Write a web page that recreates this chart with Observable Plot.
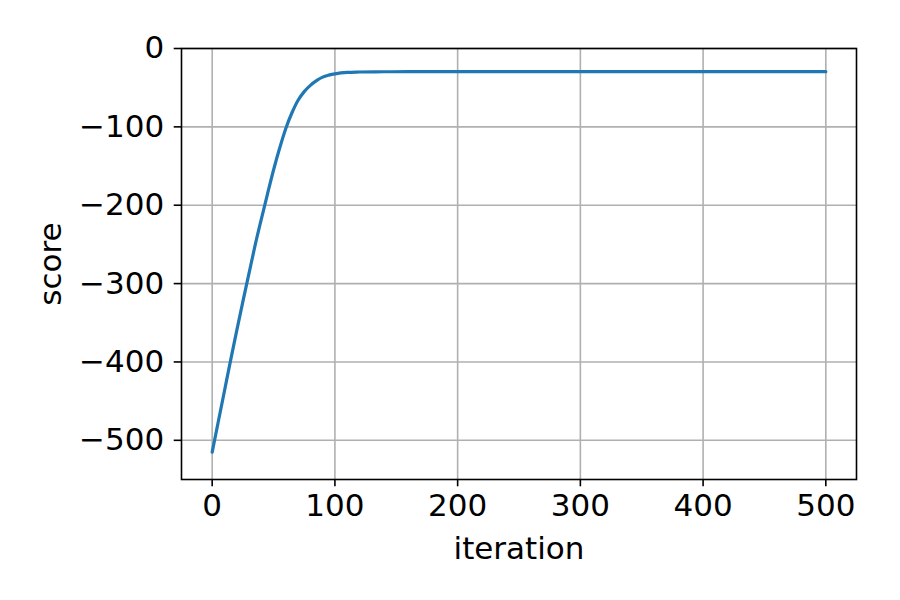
<!DOCTYPE html>
<html><head><meta charset="utf-8">
<script src="https://cdn.jsdelivr.net/npm/d3@7"></script>
<script src="https://cdn.jsdelivr.net/npm/@observablehq/plot@0.6"></script>
<style>body{margin:0;background:#fff}</style>
</head><body><div id="chart"></div>
<script>
const iterations = [0, 5, 10, 15, 20, 25, 30, 35, 40, 45, 50, 55, 60, 65, 70, 75, 80, 85, 90, 95, 100, 110, 120, 140, 160, 200, 300, 400, 500];
const scores = [-515, -476, -437, -398, -360, -323, -287, -251, -218, -186, -155, -127, -102, -82, -66, -55, -47, -41, -36.5, -34, -32.3, -30.5, -30, -29.7, -29.6, -29.6, -29.6, -29.6, -29.6];
const xTicks = [0, 100, 200, 300, 400, 500];
const yTicks = [0, -100, -200, -300, -400, -500];
const data = iterations.map((x, i) => ({iteration: x, score: scores[i]}));

const chart = Plot.plot({
  width: 900, height: 600,
  marginLeft: 181, marginRight: 44, marginTop: 48, marginBottom: 121,
  style: {fontFamily: "DejaVu Sans", fontSize: "31px", background: "#fff", color: "#000"},
  x: {domain: [-25, 525]},
  y: {domain: [-550, 0]},
  marks: [
    Plot.gridX(xTicks, {stroke: "#b0b0b0", strokeOpacity: 1, strokeWidth: 1.6}),
    Plot.gridY(yTicks, {stroke: "#b0b0b0", strokeOpacity: 1, strokeWidth: 1.6}),
    Plot.line(data, {x: "iteration", y: "score", stroke: "#1f77b4", strokeWidth: 3.2, curve: "catmull-rom"}),
    Plot.frame({stroke: "#000", strokeWidth: 1.6}),
    Plot.axisX(xTicks, {tickSize: 7.3, tickPadding: 7, strokeWidth: 1.6, label: "iteration", labelAnchor: "center", labelOffset: 79, labelArrow: "none"}),
    Plot.axisY(yTicks, {tickSize: 7.3, tickPadding: 10, strokeWidth: 1.6, label: "score", labelAnchor: "center", labelOffset: 143, labelArrow: "none"})
  ]
});
document.getElementById("chart").append(chart);
</script>
</body></html>
